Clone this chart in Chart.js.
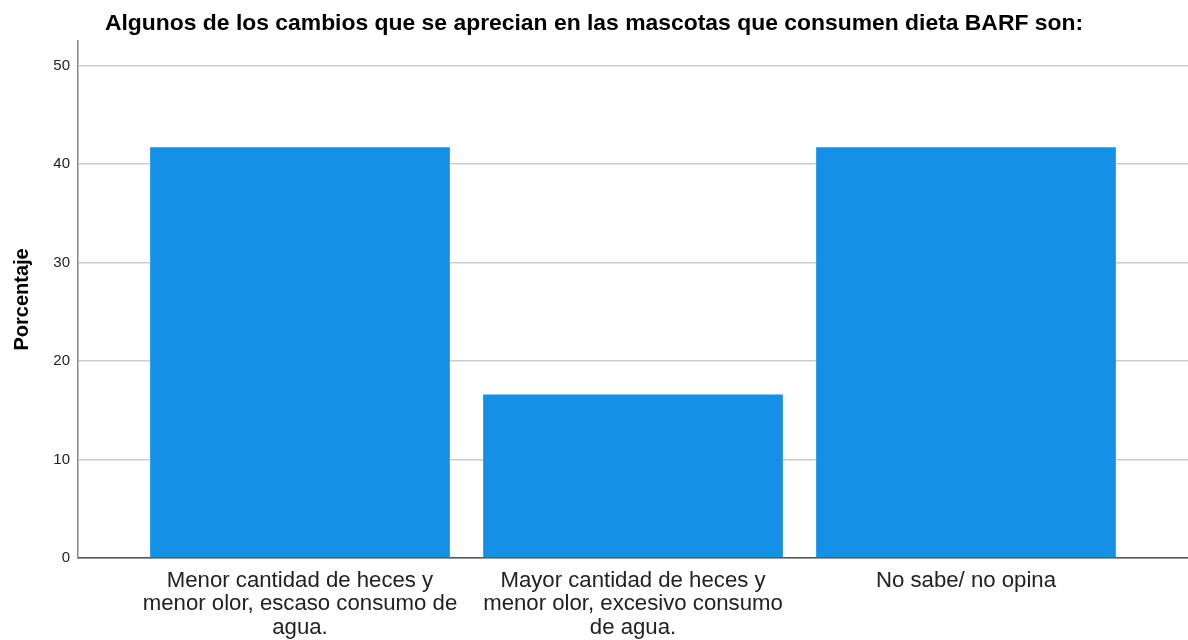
<!DOCTYPE html>
<html>
<head>
<meta charset="utf-8">
<script src="https://cdn.jsdelivr.net/npm/chart.js@4"></script>
<style>
  body { margin: 0; background: #fff; }
  #wrap { width: 1188px; height: 640px; position: relative; }
</style>
</head>
<body>
<div id="wrap"><canvas id="chart"></canvas></div>
<script>
// chart data
const categories = [
  ['Menor cantidad de heces y', 'menor olor, escaso consumo de', 'agua.'],
  ['Mayor cantidad de heces y', 'menor olor, excesivo consumo', 'de agua.'],
  ['No sabe/ no opina']
];
const percentages = [41.7, 16.6, 41.7];
const yTicks = [0, 10, 20, 30, 40, 50];

const titleText = 'Algunos de los cambios que se aprecian en las mascotas que consumen dieta BARF son:';
const barColor = '#1490e6';

// bars sit on a linear x scale so the side margins match the original
const points = percentages.map((v, i) => ({ x: i + 1, y: v }));

const ctx = document.getElementById('chart');

Chart.defaults.font.family = 'Arial, "Liberation Sans", sans-serif';
Chart.defaults.color = '#222';

new Chart(ctx, {
  type: 'bar',
  data: {
    datasets: [{
      data: points,
      backgroundColor: barColor,
      borderWidth: 0,
      categoryPercentage: 1,
      barPercentage: 0.9
    }]
  },
  options: {
    responsive: true,
    maintainAspectRatio: false,
    animation: false,
    layout: { padding: { top: 0, right: 0, bottom: 0, left: 0 } },
    plugins: {
      legend: { display: false },
      tooltip: { enabled: false },
      title: {
        display: true,
        text: titleText,
        color: '#000',
        font: { size: 22.9, weight: 'bold' },
        lineHeight: 1.1,
        padding: { top: 10, bottom: 3.3 }
      }
    },
    scales: {
      x: {
        type: 'linear',
        offset: false,
        min: 1 - 2 / 3,
        max: 3 + 2 / 3,
        afterBuildTicks: (scale) => {
          scale.ticks = categories.map((c, i) => ({ value: i + 1 }));
        },
        afterFit: (scale) => { scale.height = 82; },
        grid: { display: false, drawTicks: false },
        border: { display: true, color: '#555', width: 1.5 },
        ticks: {
          autoSkip: false,
          maxRotation: 0,
          padding: 11,
          color: '#222',
          font: { size: 22.2, lineHeight: 1.06 },
          callback: (value) => categories[value - 1] || ''
        }
      },
      y: {
        min: 0,
        max: 52.5,
        afterBuildTicks: (scale) => {
          scale.ticks = yTicks.map(v => ({ value: v }));
        },
        afterFit: (scale) => { scale.width = 78; },
        grid: { color: '#cccccc', lineWidth: 1.5, drawTicks: false },
        border: { display: true, color: '#888', width: 1.5 },
        ticks: {
          padding: 8,
          color: '#222',
          font: { size: 15 }
        },
        title: {
          display: true,
          text: 'Porcentaje',
          color: '#000',
          font: { size: 20, weight: 'bold' },
          padding: { top: 10, bottom: 0 }
        }
      }
    }
  }
});
</script>
</body>
</html>
